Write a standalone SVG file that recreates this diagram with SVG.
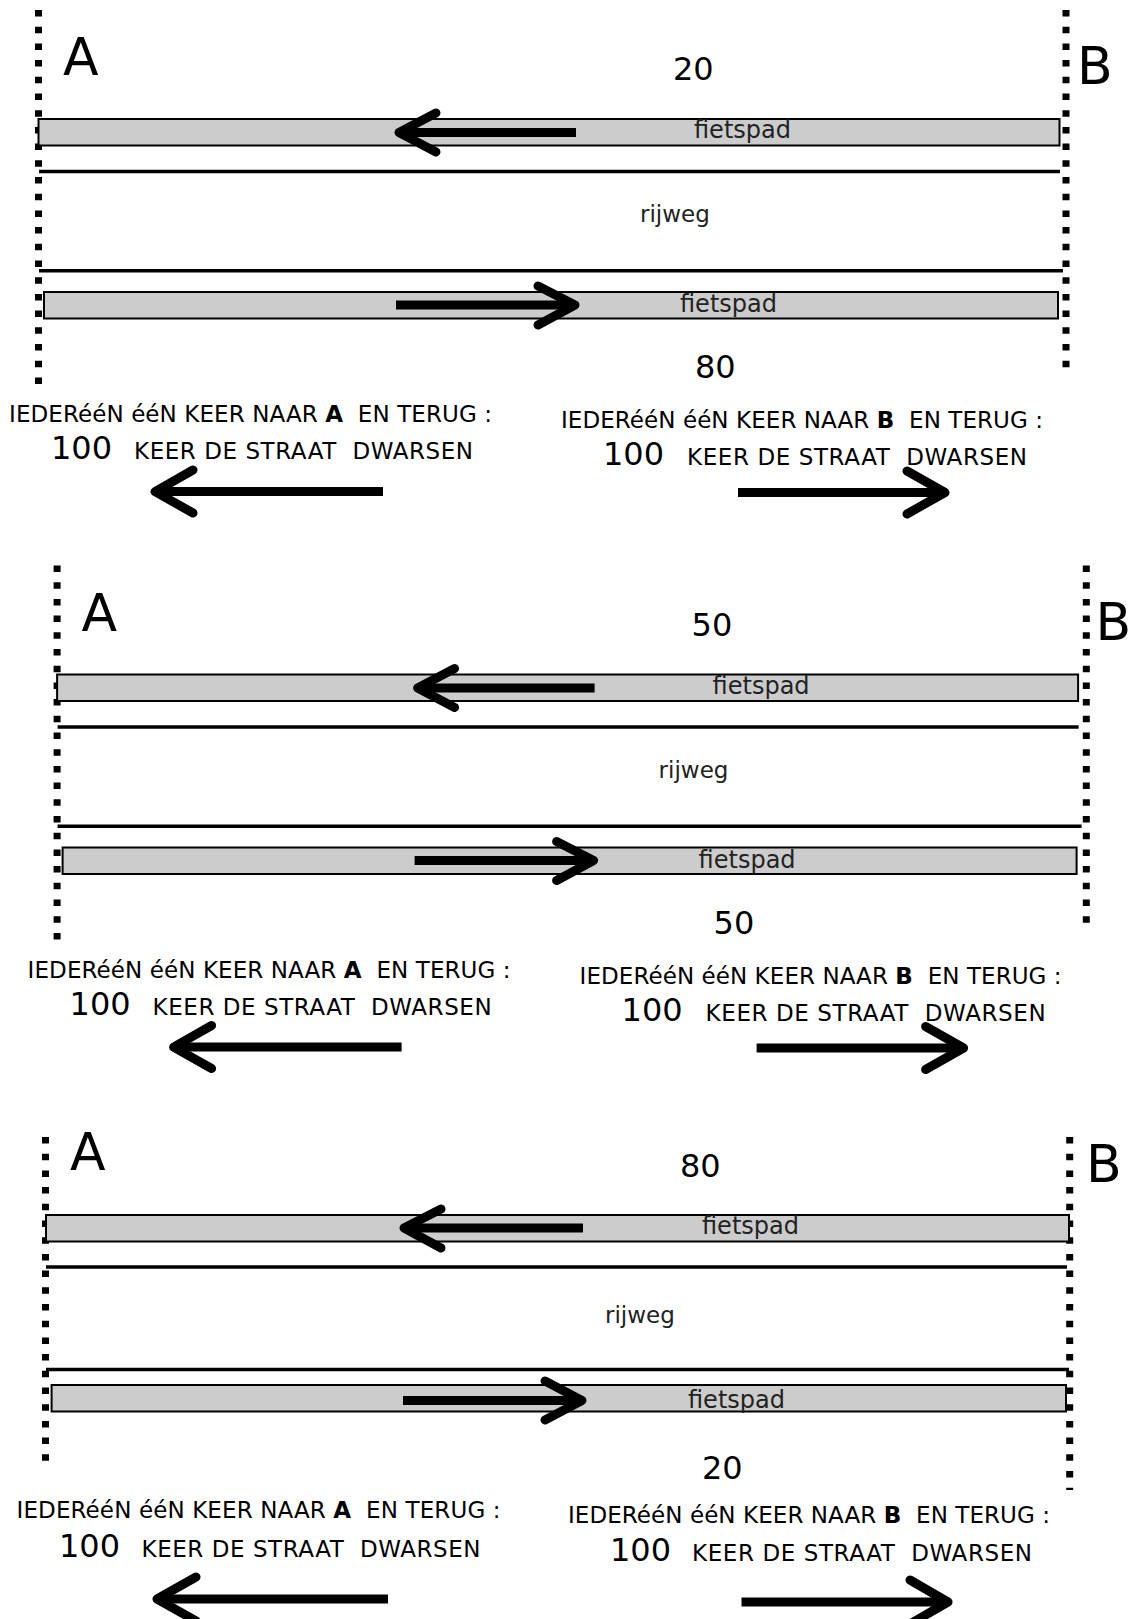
<svg xmlns="http://www.w3.org/2000/svg" width="1133" height="1619" viewBox="0 0 1133 1619">
<style>
.dot{fill:none;stroke:#000;stroke-width:7;stroke-dasharray:6.5 10.2}
.bar{fill:#ccc;stroke:#000;stroke-width:2}
.road{stroke:#000;stroke-width:3.5}
.shaft{fill:none;stroke:#000;stroke-width:9;stroke-linecap:butt}
.arr{fill:none;stroke:#000;stroke-width:9;stroke-linecap:round;stroke-linejoin:round}
text{font-family:"DejaVu Sans","Liberation Sans",sans-serif;fill:#000}
.big{font-size:52px}
.num{font-size:32px}
.lbl{font-size:24px;fill:#222}
.rw{font-size:23px;fill:#222}
.txt{font-size:23px}
.hund{font-size:32px}
</style>
<rect width="1133" height="1619" fill="#fff"/>

<g id="panel1">
  <g id="p1-bounds">
    <line class="dot" x1="38.5" y1="10" x2="38.5" y2="384"/>
    <line class="dot" x1="1066" y1="10" x2="1066" y2="372"/>
    <text class="big" x="63" y="75">A</text>
    <text class="big" x="1077" y="84">B</text>
  </g>
  <g id="p1-road">
    <text class="num" x="673" y="80">20</text>
    <rect class="bar" x="38.5" y="119" width="1021" height="26.5"/>
    <text class="lbl" x="694" y="138">fietspad</text>
    <path class="shaft" d="M576 132.5H402"/>
    <polyline class="arr" points="436,113 399,132.5 436,152"/>
    <line class="road" x1="39" y1="171.5" x2="1060" y2="171.5"/>
    <text class="rw" x="640" y="222">rijweg</text>
    <line class="road" x1="39" y1="270.7" x2="1063" y2="270.7"/>
    <rect class="bar" x="44" y="292" width="1014" height="26.5"/>
    <text class="lbl" x="680" y="312">fietspad</text>
    <path class="shaft" d="M396 305H572"/>
    <polyline class="arr" points="538,286 575,305 538,325"/>
    <text class="num" x="695" y="378">80</text>
  </g>
  <g id="p1-left">
    <text class="txt" x="9" y="422" textLength="483" xml:space="preserve">IEDERééN ééN KEER NAAR <tspan font-weight="bold">A</tspan>  EN TERUG :</text>
    <text class="hund" x="51" y="459">100</text>
    <text class="txt" x="134" y="459" textLength="339" xml:space="preserve">KEER DE STRAAT  DWARSEN</text>
    <path class="shaft" d="M383 491.6H160"/>
    <polyline class="arr" points="193,470 155,491.6 193,513"/>
  </g>
  <g id="p1-right">
    <text class="txt" x="561" y="428" textLength="482" xml:space="preserve">IEDERééN ééN KEER NAAR <tspan font-weight="bold">B</tspan>  EN TERUG :</text>
    <text class="hund" x="603" y="465">100</text>
    <text class="txt" x="687" y="465" textLength="340" xml:space="preserve">KEER DE STRAAT  DWARSEN</text>
    <path class="shaft" d="M738 492.5H940"/>
    <polyline class="arr" points="907,471 945,492.5 907,514"/>
  </g>
</g>

<g id="panel2" transform="translate(18.6,555.5)">
  <g id="p2-bounds">
    <line class="dot" x1="38.5" y1="10" x2="38.5" y2="384"/>
    <line class="dot" x1="1067.7" y1="10" x2="1067.7" y2="372"/>
    <text class="big" x="63" y="75">A</text>
    <text class="big" x="1077" y="84">B</text>
  </g>
  <g id="p2-road">
    <text class="num" x="673" y="80">50</text>
    <rect class="bar" x="38.5" y="119" width="1021" height="26.5"/>
    <text class="lbl" x="694" y="138">fietspad</text>
    <path class="shaft" d="M576 132.5H402"/>
    <polyline class="arr" points="436,113 399,132.5 436,152"/>
    <line class="road" x1="39" y1="171.5" x2="1060" y2="171.5"/>
    <text class="rw" x="640" y="222">rijweg</text>
    <line class="road" x1="39" y1="270.7" x2="1063" y2="270.7"/>
    <rect class="bar" x="44" y="292" width="1014" height="26.5"/>
    <text class="lbl" x="680" y="312">fietspad</text>
    <path class="shaft" d="M396 305H572"/>
    <polyline class="arr" points="538,286 575,305 538,325"/>
    <text class="num" x="695" y="378">50</text>
  </g>
  <g id="p2-left">
    <text class="txt" x="9" y="422" textLength="483" xml:space="preserve">IEDERééN ééN KEER NAAR <tspan font-weight="bold">A</tspan>  EN TERUG :</text>
    <text class="hund" x="51" y="459">100</text>
    <text class="txt" x="134" y="459" textLength="339" xml:space="preserve">KEER DE STRAAT  DWARSEN</text>
    <path class="shaft" d="M383 491.6H160"/>
    <polyline class="arr" points="193,470 155,491.6 193,513"/>
  </g>
  <g id="p2-right">
    <text class="txt" x="561" y="428" textLength="482" xml:space="preserve">IEDERééN ééN KEER NAAR <tspan font-weight="bold">B</tspan>  EN TERUG :</text>
    <text class="hund" x="603" y="465">100</text>
    <text class="txt" x="687" y="465" textLength="340" xml:space="preserve">KEER DE STRAAT  DWARSEN</text>
    <path class="shaft" d="M738 492.5H940"/>
    <polyline class="arr" points="907,471 945,492.5 907,514"/>
  </g>
</g>

<g id="panel3">
  <g id="p3-bounds">
    <line class="dot" x1="45.5" y1="1137" x2="45.5" y2="1468"/>
    <line class="dot" x1="1069.7" y1="1137" x2="1069.7" y2="1490"/>
    <text class="big" x="70" y="1170">A</text>
    <text class="big" x="1086" y="1182">B</text>
  </g>
  <g id="p3-road">
    <text class="num" x="680" y="1177">80</text>
    <rect class="bar" x="46" y="1215" width="1023" height="26.5"/>
    <text class="lbl" x="702" y="1234">fietspad</text>
    <path class="shaft" d="M583 1228H407"/>
    <polyline class="arr" points="441,1209 404,1228 441,1248"/>
    <line class="road" x1="46" y1="1267" x2="1067" y2="1267"/>
    <text class="rw" x="605" y="1323">rijweg</text>
    <line class="road" x1="46" y1="1369.5" x2="1069" y2="1369.5"/>
    <rect class="bar" x="51.6" y="1385" width="1014.4" height="26.5"/>
    <text class="lbl" x="688" y="1408">fietspad</text>
    <path class="shaft" d="M403 1400.5H579"/>
    <polyline class="arr" points="545,1381 582,1400.5 545,1420"/>
    <text class="num" x="702" y="1479">20</text>
  </g>
  <g id="p3-left">
    <text class="txt" x="16.5" y="1518" textLength="484" xml:space="preserve">IEDERééN ééN KEER NAAR <tspan font-weight="bold">A</tspan>  EN TERUG :</text>
    <text class="hund" x="59" y="1557">100</text>
    <text class="txt" x="141.5" y="1557" textLength="339" xml:space="preserve">KEER DE STRAAT  DWARSEN</text>
    <path class="shaft" d="M388 1599H161"/>
    <polyline class="arr" points="196,1577 157,1599 196,1621"/>
  </g>
  <g id="p3-right">
    <text class="txt" x="568" y="1523" textLength="482" xml:space="preserve">IEDERééN ééN KEER NAAR <tspan font-weight="bold">B</tspan>  EN TERUG :</text>
    <text class="hund" x="610" y="1561">100</text>
    <text class="txt" x="692" y="1561" textLength="340" xml:space="preserve">KEER DE STRAAT  DWARSEN</text>
    <path class="shaft" d="M741.5 1602H944"/>
    <polyline class="arr" points="910,1580 948,1602 910,1624"/>
  </g>
</g>
</svg>
